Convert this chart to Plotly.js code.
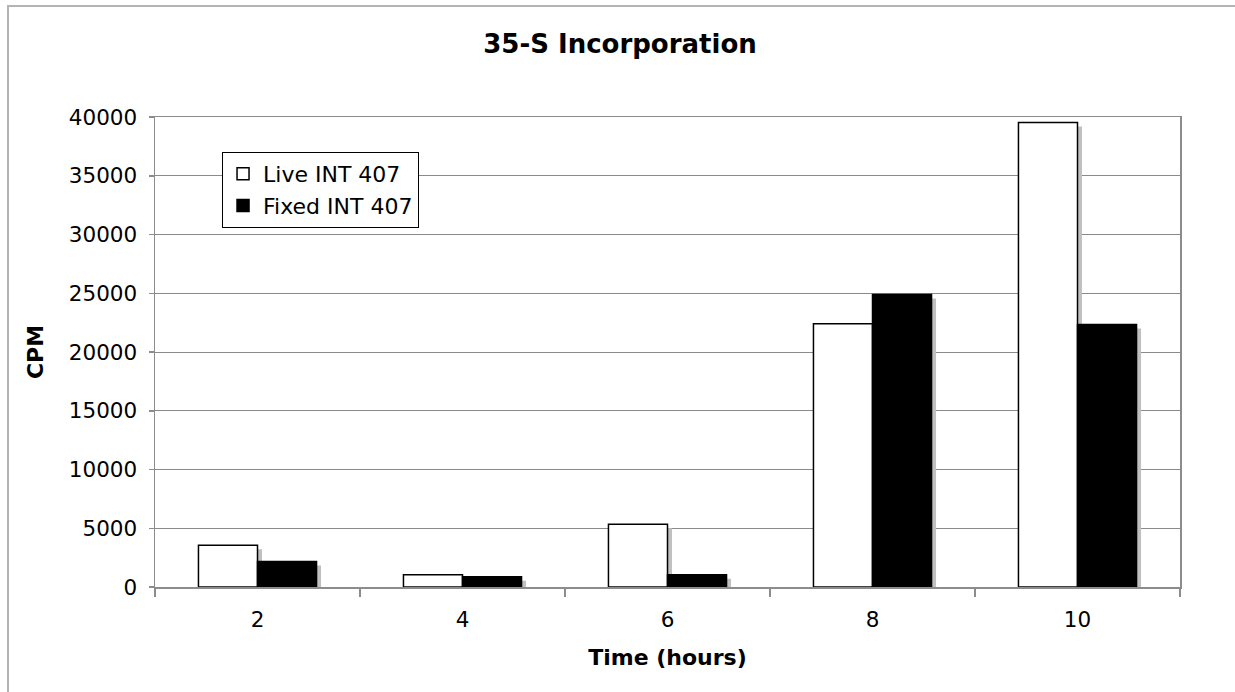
<!DOCTYPE html>
<html>
<head>
<meta charset="utf-8">
<script src="https://cdn.plot.ly/plotly-3.0.1.min.js"></script>
<style>
  html, body { margin: 0; padding: 0; background: #fff; overflow: hidden; }
  #chart { position: absolute; left: 0; top: 0; width: 1235px; height: 692px; }
  #frameTop { position: absolute; left: 7px; top: 5px; width: 1300px; height: 0;
              border-top: 2px solid #b4b4b4; pointer-events: none; }
  #frameLeft { position: absolute; left: 7px; top: 5px; width: 0; height: 800px;
               border-left: 2px solid #b4b4b4; pointer-events: none; }
</style>
</head>
<body>
<div id="chart"></div>
<div id="frameTop"></div>
<div id="frameLeft"></div>
<script>
// Sampling times (hours) and 35-S counts per minute
const hours = ['2', '4', '6', '8', '10'];
const liveINT407 = [3560, 1050, 5350, 22400, 39530];
const fixedINT407 = [2160, 880, 1050, 24900, 22350];
const seriesNames = ['Live INT 407', 'Fixed INT 407'];

// bar geometry (category units) and drop-shadow styling
const BAR_W = 0.288;
const SHADOW_DX = 0.022;   // shift to the right
const SHADOW_DY = 340;     // shift downward, in CPM units
const SHADOW_COLOR = '#c0c0c0';

const FONT = 'DejaVu Sans, Verdana, sans-serif';

function shadow(values, offset) {
  return {
    type: 'bar', x: hours, y: values,
    base: hours.map(() => -SHADOW_DY),
    width: BAR_W, offset: offset + SHADOW_DX,
    marker: { color: SHADOW_COLOR, line: { width: 0 } },
    showlegend: false, hoverinfo: 'skip'
  };
}

const traces = [
  shadow(liveINT407, -BAR_W),
  shadow(fixedINT407, 0),
  {
    type: 'bar', name: seriesNames[0], x: hours, y: liveINT407,
    width: BAR_W, offset: -BAR_W,
    marker: { color: '#ffffff', line: { color: '#000000', width: 1.5 } }
  },
  {
    type: 'bar', name: seriesNames[1], x: hours, y: fixedINT407,
    width: BAR_W, offset: 0,
    marker: { color: '#000000', line: { color: '#000000', width: 1.5 } }
  }
];

const layout = {
  width: 1235, height: 692,
  margin: { l: 155, r: 55, t: 117, b: 105 },
  paper_bgcolor: 'rgba(0,0,0,0)',
  plot_bgcolor: '#ffffff',
  barmode: 'overlay',
  font: { family: FONT, color: '#000000', size: 21.5 },
  title: {
    text: '<b>35-S Incorporation</b>',
    font: { family: FONT, size: 26, color: '#000000' },
    x: 620 / 1235, xref: 'container', xanchor: 'center',
    y: 1 - 44 / 692, yref: 'container', yanchor: 'middle'
  },
  xaxis: {
    type: 'category',
    title: { text: '<b>Time (hours)</b>', font: { family: FONT, size: 22 }, standoff: 18 },
    tickson: 'boundaries',
    ticks: 'outside', ticklen: 8, tickwidth: 1.5, tickcolor: '#8c8c8c',
    ticklabelstandoff: 13,
    showline: true, linecolor: '#8c8c8c', linewidth: 1.5, mirror: true,
    showgrid: false, zeroline: false,
    tickfont: { family: FONT, size: 21.5 },
    fixedrange: true
  },
  yaxis: {
    title: { text: '<b>CPM</b>', font: { family: FONT, size: 22 }, standoff: 19 },
    range: [0, 40000], dtick: 5000, tick0: 0, tickformat: 'd',
    ticks: 'outside', ticklen: 5, tickwidth: 1.5, tickcolor: '#8c8c8c',
    ticklabelstandoff: 7,
    showline: true, linecolor: '#8c8c8c', linewidth: 1.5, mirror: true,
    showgrid: true, gridcolor: '#8a8a8a', gridwidth: 1,
    zeroline: false,
    tickfont: { family: FONT, size: 21.5 },
    fixedrange: true
  },
  legend: {
    x: 0.0654, y: 0.9255, xanchor: 'left', yanchor: 'top',
    bgcolor: '#ffffff', bordercolor: '#000000', borderwidth: 1,
    font: { family: FONT, size: 22, color: '#000000' },
    traceorder: 'normal', itemwidth: 30
  },
  showlegend: true
};

Plotly.newPlot('chart', traces, layout, { displayModeBar: false, staticPlot: true });
</script>
</body>
</html>
